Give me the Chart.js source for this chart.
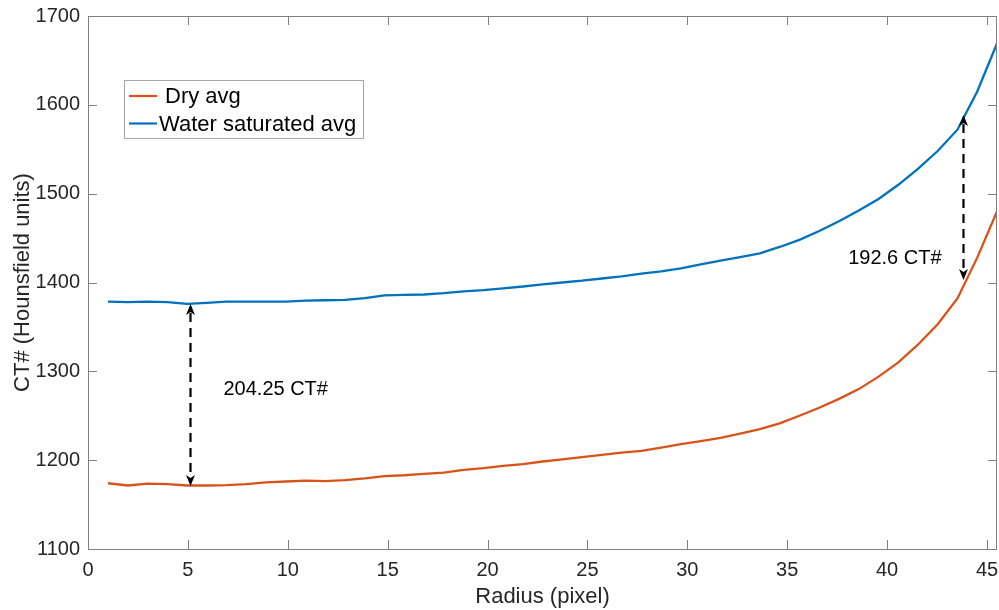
<!DOCTYPE html>
<html>
<head>
<meta charset="utf-8">
<script src="https://cdn.jsdelivr.net/npm/chart.js@4.4.1/dist/chart.umd.min.js"></script>
<style>
  html, body { margin: 0; padding: 0; background: #fff; }
  #wrap { width: 999px; height: 610px; }
</style>
</head>
<body>
<div id="wrap"><canvas id="ctChart"></canvas></div>
<script>
// radius samples (pixel)
const radius = [1.00, 1.99, 2.98, 3.97, 4.96, 5.94, 6.93, 7.92, 8.91, 9.90,
  10.89, 11.88, 12.87, 13.86, 14.84, 15.83, 16.82, 17.81, 18.80, 19.79,
  20.78, 21.77, 22.76, 23.74, 24.73, 25.72, 26.71, 27.70, 28.69, 29.68,
  30.67, 31.66, 32.64, 33.63, 34.62, 35.61, 36.60, 37.59, 38.58, 39.57,
  40.56, 41.54, 42.53, 43.52, 44.51, 45.50];
// dry average CT#
const dryAvg = [1174, 1171.5, 1173.5, 1173, 1171.5, 1171.5, 1172, 1173, 1175, 1176,
  1177, 1176.5, 1177.5, 1179.5, 1182, 1183, 1184.5, 1186, 1189, 1191,
  1193.5, 1195.5, 1198.5, 1201, 1203.5, 1206, 1208.5, 1210.5, 1214, 1218,
  1221.5, 1225, 1230, 1235, 1241.5, 1250, 1259, 1269, 1280, 1294,
  1310, 1330, 1353, 1382, 1428, 1480];
// water saturated average CT#
const wetAvg = [1378.5, 1378, 1378.5, 1378, 1376, 1377, 1378.5, 1378.5, 1378.5, 1378.5,
  1379.5, 1380, 1380.5, 1382.5, 1385.5, 1386, 1386.5, 1388, 1390, 1391.5,
  1393.5, 1395.5, 1398, 1400, 1402, 1404.5, 1407, 1410, 1412.5, 1416,
  1420.5, 1424.5, 1428.5, 1432.7, 1440, 1448, 1458, 1469, 1481, 1494,
  1510, 1528, 1548, 1572, 1615, 1669];
const seriesNames = ["Dry avg", "Water saturated avg"];
// difference arrows: x, from, to, label position and text
const gapArrows = [
  { x: 5.13, from: 1375.7, to: 1170.9, labelX: 6.78, labelY: 1279.7, text: "204.25 CT#" },
  { x: 43.78, from: 1588.5, to: 1402.8, labelX: 38.05, labelY: 1427, text: "192.6 CT#" },
];

const FONT = "'Liberation Sans', Arial, sans-serif";
const dryColor = "#D95319";
const wetColor = "#0072BD";

const toPoints = (ys) => radius.map((r, i) => ({ x: r, y: ys[i] }));

//arrow head with a small notch, tip at (x,y), pointing dir (+1 down, -1 up)
function arrowHead(ctx, x, y, dir) {
  ctx.beginPath();
  ctx.moveTo(x, y);
  ctx.lineTo(x - 4.5, y - dir * 11);
  ctx.lineTo(x, y - dir * 8);
  ctx.lineTo(x + 4.5, y - dir * 11);
  ctx.closePath();
  ctx.fill();
}

//draws box, inward ticks, legend and arrows like the matlab figure
const figurePlugin = {
  id: "figurePlugin",
  afterDatasetsDraw(chart) {
    const { ctx, chartArea: a, scales } = chart;
    const xs = scales.x, ys = scales.y;
    ctx.save();

    // arrows + labels
    ctx.strokeStyle = "#000";
    ctx.fillStyle = "#000";
    ctx.lineWidth = 2.2;
    gapArrows.forEach((g) => {
      const px = Math.round(xs.getPixelForValue(g.x)) + 0.5;
      const y1 = ys.getPixelForValue(g.from);
      const y2 = ys.getPixelForValue(g.to);
      ctx.setLineDash([9, 6]);
      ctx.beginPath();
      ctx.moveTo(px, y1 + 9);
      ctx.lineTo(px, y2 - 9);
      ctx.stroke();
      ctx.setLineDash([]);
      arrowHead(ctx, px, y1, -1);
      arrowHead(ctx, px, y2, 1);
      ctx.font = "20px " + FONT;
      ctx.textAlign = "left";
      ctx.textBaseline = "middle";
      ctx.fillText(g.text, xs.getPixelForValue(g.labelX), ys.getPixelForValue(g.labelY));
    });

    // axes box
    ctx.strokeStyle = "#808080";
    ctx.lineWidth = 1;
    ctx.strokeRect(a.left + 0.5, a.top + 0.5, a.right - a.left - 1, a.bottom - a.top);
    const tl = 9;
    ctx.beginPath();
    xs.ticks.forEach((t) => {
      const p = Math.round(xs.getPixelForValue(t.value)) + 0.5;
      ctx.moveTo(p, a.bottom); ctx.lineTo(p, a.bottom - tl);
      ctx.moveTo(p, a.top); ctx.lineTo(p, a.top + tl);
    });
    ys.ticks.forEach((t) => {
      const p = Math.round(ys.getPixelForValue(t.value)) + 0.5;
      ctx.moveTo(a.left, p); ctx.lineTo(a.left + tl, p);
      ctx.moveTo(a.right, p); ctx.lineTo(a.right - tl, p);
    });
    ctx.stroke();

    // legend
    const lx = a.left + 36, ly = a.top + 64, lw = 239, lh = 58;
    ctx.fillStyle = "#fff";
    ctx.fillRect(lx, ly, lw, lh);
    ctx.strokeStyle = "#a6a6a6";
    ctx.strokeRect(lx + 0.5, ly + 0.5, lw, lh);
    ctx.font = "22px " + FONT;
    ctx.textBaseline = "middle";
    chart.data.datasets.forEach((ds, i) => {
      const cy = ly + 16 + i * 27.5;
      ctx.strokeStyle = ds.borderColor;
      ctx.lineWidth = 2.2;
      ctx.beginPath();
      ctx.moveTo(lx + 5, cy);
      ctx.lineTo(lx + 33, cy);
      ctx.stroke();
      ctx.fillStyle = "#000";
      ctx.fillText(ds.label, lx + (i === 0 ? 41 : 35), cy + 1);
    });
    ctx.restore();
  },
};

const tickFont = { family: FONT, size: 20 };
const titleFont = { family: FONT, size: 22 };

new Chart(document.getElementById("ctChart"), {
  type: "line",
  data: {
    datasets: [
      { label: seriesNames[0], data: toPoints(dryAvg), borderColor: dryColor, borderWidth: 2.3, pointRadius: 0, tension: 0 },
      { label: seriesNames[1], data: toPoints(wetAvg), borderColor: wetColor, borderWidth: 2.3, pointRadius: 0, tension: 0 },
    ],
  },
  options: {
    responsive: true,
    maintainAspectRatio: false,
    animation: false,
    layout: { padding: { left: 0, top: 16, right: 2, bottom: 0 } },
    plugins: { legend: { display: false }, tooltip: { enabled: false } },
    scales: {
      x: {
        type: "linear",
        min: 0,
        max: 45.5,
        grid: { display: false, drawTicks: false },
        border: { display: false },
        ticks: { stepSize: 5, includeBounds: false, autoSkip: false, padding: 9, color: "#262626", font: tickFont, maxRotation: 0 },
        title: { display: true, text: "Radius (pixel)", color: "#262626", font: titleFont, padding: { top: 0, bottom: 0 } },
        afterFit: (s) => { s.height = 61; s.paddingLeft = 0; s.paddingRight = 0; },
      },
      y: {
        min: 1100,
        max: 1700,
        grid: { display: false, drawTicks: false },
        border: { display: false },
        ticks: { stepSize: 100, padding: 8, color: "#262626", font: tickFont, callback: (v) => String(v) },
        title: { display: true, text: "CT# (Hounsfield units)", color: "#262626", font: titleFont, padding: { top: 10, bottom: 0 } },
        afterFit: (s) => { s.width = 88; s.paddingTop = 0; s.paddingBottom = 0; },
      },
    },
  },
  plugins: [figurePlugin],
});
</script>
</body>
</html>
